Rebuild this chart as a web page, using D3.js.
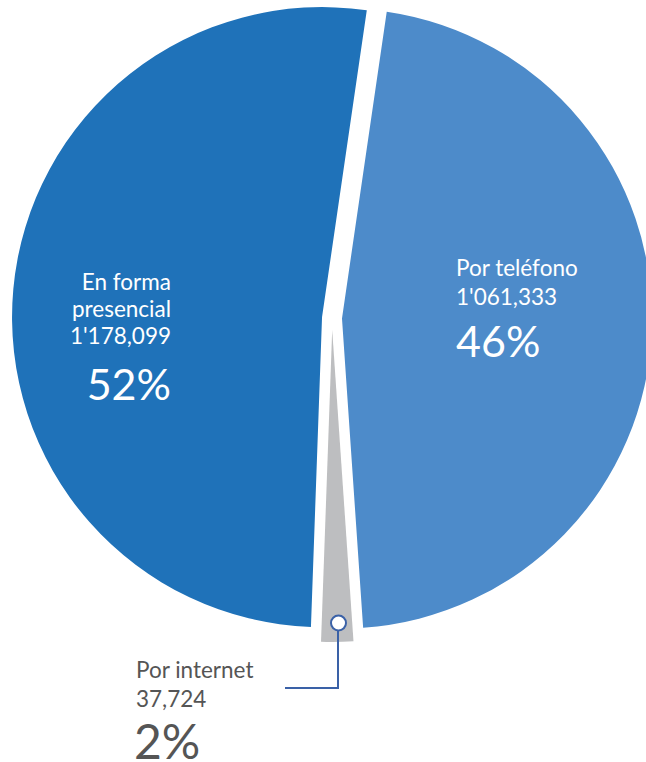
<!DOCTYPE html>
<html>
<head>
<meta charset="utf-8">
<script src="https://cdn.jsdelivr.net/npm/d3@7"></script>
<style>
  body { margin: 0; background: #fff; }
  svg text { font-family: Lato, "Open Sans", sans-serif; }
</style>
</head>
<body>
<div id="canvas"></div>
<script>
const WIDTH = 646;
const HEIGHT = 762;

// data, in drawing order (clockwise from the top)
const categories = ['Por teléfono', 'Por internet', 'En forma presencial'];
const values = [1061333, 37724, 1178099];
const pctLabels = ['46%', '2%', '52%'];
const colors = ['#4d8bca', '#bdbec0', '#1f72b9'];

const CX = 332, CY = 318, R = 310;
const START = 8.3 * Math.PI / 180;

const svg = d3.select('#canvas').append('svg')
  .attr('width', WIDTH)
  .attr('height', HEIGHT);

const g = svg.append('g')
  .attr('transform', `translate(${CX}, ${CY})`);

const pie = d3.pie()
  .sort(null)
  .value(d => d.value)
  .startAngle(START)
  .endAngle(START + 2 * Math.PI);

const data = categories.map((c, i) => ({ name: c, value: values[i], pct: pctLabels[i], color: colors[i] }));
const arcs = pie(data);

// internet slice is pulled a little further out
const explode = d => d.index === 1 ? 12 : 10;
const radius = d => d.index === 1 ? 312 : R;

const offset = d => {
  const a = (d.startAngle + d.endAngle) / 2;
  const o = explode(d);
  return [Math.sin(a) * o, -Math.cos(a) * o];
};

g.selectAll('path')
  .data(arcs)
  .enter().append('path')
    .attr('transform', d => `translate(${offset(d)})`)
    .attr('d', d => d3.arc().innerRadius(0).outerRadius(radius(d))(d))
    .attr('fill', d => d.data.color);

const fmt = v => {
  const s = d3.format(',')(v);
  return v >= 1e6 ? s.replace(',', "'") : s;
};

const SMALL = 22.5;

// labels
const labels = svg.append('g');

// presencial (right aligned, inside)
const pres = arcs[2].data;
const tp = labels.append('g').attr('fill', '#fff').attr('text-anchor', 'end');
tp.append('text').attr('x', 171).attr('y', 290).attr('font-size', SMALL).text('En forma');
tp.append('text').attr('x', 171).attr('y', 317).attr('font-size', SMALL).text('presencial');
tp.append('text').attr('x', 171).attr('y', 344).attr('font-size', SMALL).text(fmt(pres.value));
tp.append('text').attr('x', 171).attr('y', 400).attr('font-size', 43).text(pres.pct);

// teléfono (left aligned, inside)
const tel = arcs[0].data;
const tt = labels.append('g').attr('fill', '#fff');
tt.append('text').attr('x', 456).attr('y', 276).attr('font-size', SMALL).text(tel.name);
tt.append('text').attr('x', 456).attr('y', 305).attr('font-size', SMALL).text(fmt(tel.value));
tt.append('text').attr('x', 456).attr('y', 357).attr('font-size', 43).text(tel.pct);

// internet (outside, with leader line)
const net = arcs[1].data;
const ti = labels.append('g').attr('fill', '#555');
ti.append('text').attr('x', 136).attr('y', 678).attr('font-size', SMALL).text(net.name);
ti.append('text').attr('x', 136).attr('y', 707).attr('font-size', SMALL).text(fmt(net.value));
ti.append('text').attr('x', 134).attr('y', 759).attr('font-size', 48).text(net.pct);

svg.append('path')
  .attr('d', 'M338,623 V688 H285')
  .attr('fill', 'none')
  .attr('stroke', '#3a61a7')
  .attr('stroke-width', 2);

svg.append('circle')
  .attr('cx', 338.5)
  .attr('cy', 623)
  .attr('r', 7.5)
  .attr('fill', '#fff')
  .attr('stroke', '#3a61a7')
  .attr('stroke-width', 2);
</script>
</body>
</html>
